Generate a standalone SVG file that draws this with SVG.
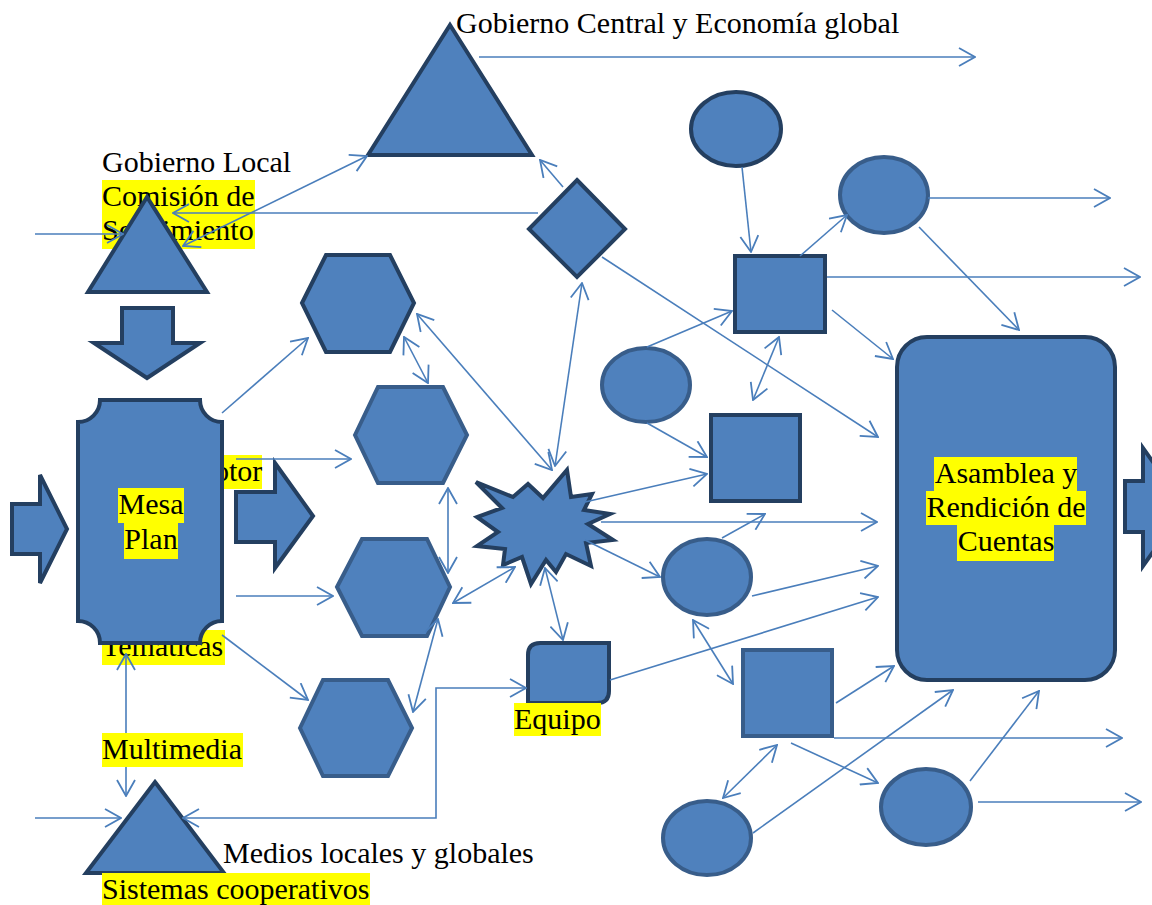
<svg xmlns="http://www.w3.org/2000/svg" width="1152" height="905" viewBox="0 0 1152 905">
<style>
text{font-family:'Liberation Serif','Times New Roman',Times,serif;font-size:30px;fill:#000}
.m{text-anchor:middle}
.hl{fill:#ffff00}
.dk{fill:#4f81bd;stroke:#243f60;stroke-width:4;stroke-linejoin:miter}
.md{fill:#4f81bd;stroke:#385d8a;stroke-width:4;stroke-linejoin:miter}
.c line,.c polyline{stroke:#4a7ebb;stroke-width:1.6;fill:none}
</style>
<defs>
<marker id="a" viewBox="0 0 18 20" refX="17" refY="10" markerWidth="18" markerHeight="20" markerUnits="userSpaceOnUse" orient="auto-start-reverse">
<path d="M1,1 L17,10 L1,19" fill="none" stroke="#4a7ebb" stroke-width="1.8"/>
</marker>
</defs>
<rect width="1152" height="905" fill="#fff"/>

<g id="labels-back">
<rect class="hl" x="102" y="180" width="153" height="34"/>
<rect class="hl" x="102" y="214" width="153" height="35"/>
<text x="102" y="206">Comisión de</text>
<text x="102" y="240">Seguimiento</text>
<rect class="hl" x="214" y="455" width="48" height="34"/>
<text x="214" y="481">otor</text>
<rect class="hl" x="102" y="630" width="123" height="35"/>
<text x="102" y="656">Temáticas</text>
</g>

<g id="node-gobierno-central"><polygon class="dk" points="450,25 532,155 368,155"/></g>
<g id="node-gobierno-local"><polygon class="dk" points="147,197 207,292 88,292"/></g>
<g id="node-down-arrow"><polygon class="dk" points="122,308 173,308 173,343 200,343 147,378 94,343 122,343"/></g>
<g id="node-mesa"><path class="dk" d="M100,400 L200,400 A22,22 0 0 0 222,422 L222,621 A22,22 0 0 0 200,643 L100,643 A22,22 0 0 0 78,621 L78,422 A22,22 0 0 0 100,400 Z"/></g>
<g id="node-left-arrow"><polygon class="dk" points="12,504 40,504 40,475 67,529 40,583 40,554 12,554"/></g>
<g id="node-right-arrow"><polygon class="dk" points="236,492 275,492 275,463 313,516 275,568 275,542 236,542"/></g>
<g id="node-hex1"><polygon class="dk" points="302,303 326,255 390,255 414,303 390,352 326,352"/></g>
<g id="node-hex2"><polygon class="md" points="355,435 378,387 443,387 467,435 443,483 378,483"/></g>
<g id="node-hex3"><polygon class="md" points="337,587 362,539 427,539 450,587 427,636 362,636"/></g>
<g id="node-hex4"><polygon class="md" points="300,728 323,680 388,680 412,728 388,776 323,776"/></g>
<g id="node-diamond"><polygon class="dk" points="577,180 625,229 577,277 529,229"/></g>
<g id="node-star"><polygon class="dk" points="476,482 513,497 528,484 543,498 567,470 571,497 592,494 584,510 610,514 588,524 613,540 586,543 591,566 566,554 556,572 546,560 531,584 522,557 503,565 505,549 477,546 498,532 477,517 502,508"/></g>
<g id="node-equipo"><path class="dk" d="M540,643 L609,643 L609,691 Q609,703 597,703 L528,703 L528,655 Q528,643 540,643 Z"/></g>
<g id="node-e1"><ellipse class="dk" cx="736" cy="129" rx="45" ry="37"/></g>
<g id="node-e2"><ellipse class="md" cx="884" cy="195" rx="44" ry="38"/></g>
<g id="node-e3"><ellipse class="md" cx="646" cy="385" rx="44" ry="37"/></g>
<g id="node-e4"><ellipse class="md" cx="707" cy="577" rx="44" ry="38"/></g>
<g id="node-e5"><ellipse class="md" cx="707" cy="838" rx="44" ry="37"/></g>
<g id="node-e6"><ellipse class="md" cx="926" cy="807" rx="45" ry="38"/></g>
<g id="node-s1"><rect class="dk" x="735" y="256" width="90" height="76"/></g>
<g id="node-s2"><rect class="dk" x="711" y="415" width="89" height="86"/></g>
<g id="node-s3"><rect class="md" x="743" y="650" width="89" height="86"/></g>
<g id="node-asamblea"><rect class="dk" x="897" y="337" width="218" height="343" rx="30"/></g>
<g id="node-edge-arrow"><polygon class="dk" points="1125,481 1143,481 1143,448 1185,507 1143,566 1143,532 1125,532"/></g>
<g id="node-medios"><polygon class="dk" points="155,782 224,873 86,873"/></g>

<g id="connectors" class="c">
<line x1="479" y1="57" x2="975" y2="57" marker-end="url(#a)"/>
<line x1="35" y1="234" x2="123" y2="234" marker-end="url(#a)"/>
<line x1="538" y1="213" x2="173" y2="213" marker-end="url(#a)"/>
<line x1="183" y1="246" x2="367" y2="156" marker-start="url(#a)" marker-end="url(#a)"/>
<line x1="563" y1="187" x2="540" y2="160" marker-end="url(#a)"/>
<line x1="602" y1="257" x2="878" y2="437" marker-end="url(#a)"/>
<line x1="582" y1="283" x2="555" y2="466" marker-start="url(#a)" marker-end="url(#a)"/>
<line x1="417" y1="314" x2="552" y2="470" marker-start="url(#a)" marker-end="url(#a)"/>
<line x1="404" y1="337" x2="428" y2="383" marker-start="url(#a)" marker-end="url(#a)"/>
<line x1="222" y1="413" x2="308" y2="338" marker-end="url(#a)"/>
<line x1="236" y1="459" x2="351" y2="459" marker-end="url(#a)"/>
<line x1="236" y1="596" x2="333" y2="596" marker-end="url(#a)"/>
<line x1="222" y1="635" x2="308" y2="700" marker-end="url(#a)"/>
<line x1="448" y1="488" x2="448" y2="573" marker-start="url(#a)" marker-end="url(#a)"/>
<line x1="453" y1="603" x2="515" y2="567" marker-start="url(#a)" marker-end="url(#a)"/>
<line x1="438" y1="619" x2="413" y2="712" marker-start="url(#a)" marker-end="url(#a)"/>
<line x1="545" y1="568" x2="563" y2="640" marker-start="url(#a)" marker-end="url(#a)"/>
<line x1="610" y1="680" x2="878" y2="597" marker-end="url(#a)"/>
<line x1="601" y1="522" x2="877" y2="522" marker-end="url(#a)"/>
<line x1="585" y1="502" x2="707" y2="474" marker-end="url(#a)"/>
<line x1="585" y1="540" x2="660" y2="577" marker-end="url(#a)"/>
<line x1="722" y1="538" x2="765" y2="514" marker-end="url(#a)"/>
<line x1="752" y1="596" x2="878" y2="566" marker-end="url(#a)"/>
<line x1="647" y1="347" x2="732" y2="311" marker-end="url(#a)"/>
<line x1="647" y1="423" x2="707" y2="457" marker-end="url(#a)"/>
<line x1="742" y1="167" x2="751" y2="252" marker-end="url(#a)"/>
<line x1="800" y1="256" x2="847" y2="215" marker-end="url(#a)"/>
<line x1="928" y1="198" x2="1110" y2="198" marker-end="url(#a)"/>
<line x1="827" y1="277" x2="1140" y2="277" marker-end="url(#a)"/>
<line x1="919" y1="227" x2="1019" y2="330" marker-end="url(#a)"/>
<line x1="832" y1="310" x2="893" y2="359" marker-end="url(#a)"/>
<line x1="779" y1="337" x2="753" y2="400" marker-start="url(#a)" marker-end="url(#a)"/>
<line x1="693" y1="620" x2="733" y2="684" marker-start="url(#a)" marker-end="url(#a)"/>
<line x1="836" y1="703" x2="894" y2="666" marker-end="url(#a)"/>
<line x1="834" y1="738" x2="1122" y2="738" marker-end="url(#a)"/>
<line x1="791" y1="743" x2="878" y2="783" marker-end="url(#a)"/>
<line x1="777" y1="745" x2="723" y2="798" marker-start="url(#a)" marker-end="url(#a)"/>
<line x1="753" y1="833" x2="953" y2="690" marker-end="url(#a)"/>
<line x1="970" y1="781" x2="1039" y2="691" marker-end="url(#a)"/>
<line x1="978" y1="802" x2="1141" y2="802" marker-end="url(#a)"/>
<line x1="126" y1="654" x2="126" y2="796" marker-start="url(#a)" marker-end="url(#a)"/>
<line x1="35" y1="818" x2="121" y2="818" marker-end="url(#a)"/>
<polyline points="183,818 436,818 436,688 526,688" marker-start="url(#a)" marker-end="url(#a)"/>
</g>

<g id="labels">
<text x="456" y="33">Gobierno Central y Economía global</text>
<text x="102" y="172">Gobierno Local</text>
<rect class="hl" x="118" y="488" width="66" height="35"/>
<rect class="hl" x="124" y="523" width="54" height="36"/>
<text class="m" x="151" y="514">Mesa</text>
<text class="m" x="151" y="549">Plan</text>
<rect class="hl" x="934" y="457" width="143" height="34"/>
<rect class="hl" x="926" y="491" width="160" height="34"/>
<rect class="hl" x="957" y="525" width="97" height="36"/>
<text class="m" x="1006" y="483">Asamblea y</text>
<text class="m" x="1006" y="517">Rendición de</text>
<text class="m" x="1006" y="551">Cuentas</text>
<rect class="hl" x="514" y="703" width="87" height="33"/>
<text x="514" y="729">Equipo</text>
<rect class="hl" x="102" y="733" width="141" height="34"/>
<text x="102" y="759">Multimedia</text>
<text x="223" y="863">Medios locales y globales</text>
<rect class="hl" x="102" y="873" width="268" height="32"/>
<text x="102" y="899">Sistemas cooperativos</text>
</g>
</svg>
